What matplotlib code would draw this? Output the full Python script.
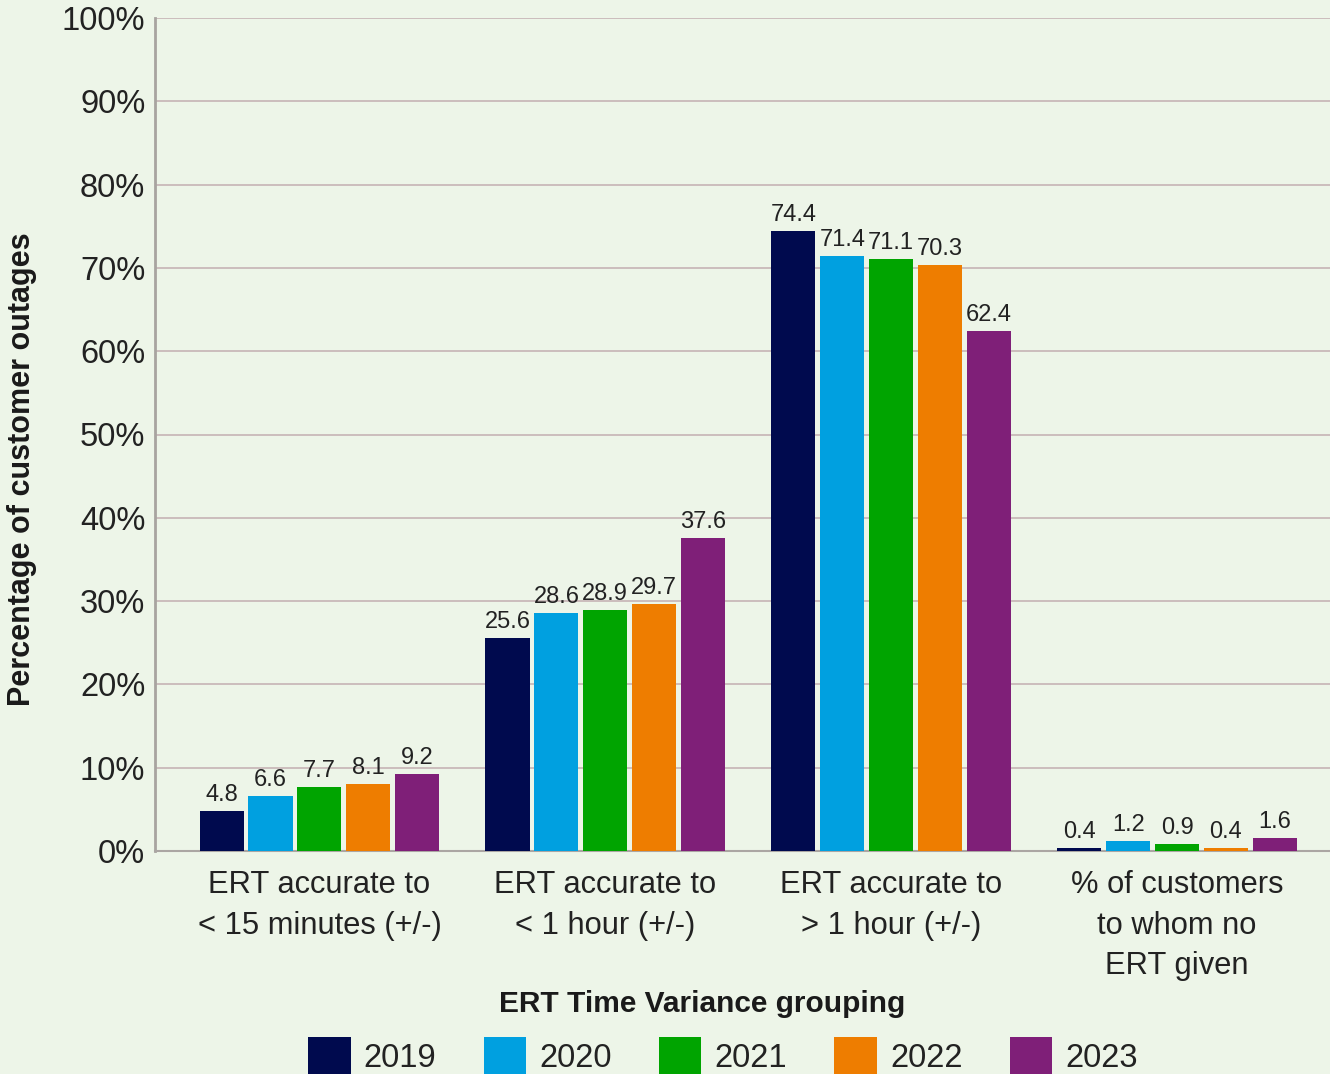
import matplotlib
matplotlib.use("Agg")
import matplotlib.pyplot as plt
import numpy as np

categories = ["ERT accurate to\n< 15 minutes (+/-)",
              "ERT accurate to\n< 1 hour (+/-)",
              "ERT accurate to\n> 1 hour (+/-)",
              "% of customers\nto whom no\nERT given"]
years = ["2019", "2020", "2021", "2022", "2023"]
values = {
    "2019": [4.8, 25.6, 74.4, 0.4],
    "2020": [6.6, 28.6, 71.4, 1.2],
    "2021": [7.7, 28.9, 71.1, 0.9],
    "2022": [8.1, 29.7, 70.3, 0.4],
    "2023": [9.2, 37.6, 62.4, 1.6],
}
colors = ["#000A4E", "#00A0E0", "#00A400", "#EE7D00", "#7F1F78"]
yticks = [0, 10, 20, 30, 40, 50, 60, 70, 80, 90, 100]

bg = "#EDF5E8"
plt.rcParams['font.family'] = ['Liberation Sans', 'DejaVu Sans']

fig = plt.figure(figsize=(13.3, 10.74), dpi=100, facecolor=bg)
ax = fig.add_axes([155/1330, 1 - 851/1074, 1 - 155/1330, (851 - 18)/1074])
ax.set_facecolor(bg)

x = np.arange(len(categories))
pitch = 0.171
width = 0.154
for i, (yr, c) in enumerate(zip(years, colors)):
    pos = x + (i - 2) * pitch
    bars = ax.bar(pos, values[yr], width=width, color=c, label=yr, zorder=3)
    for b, v in zip(bars, values[yr]):
        ax.text(b.get_x() + b.get_width() / 2, v + 0.6, f"{v}", ha="center",
                va="bottom", fontsize=17, color="#222222", zorder=4)

ax.set_xlim(-0.575, 3.535)
ax.set_ylim(0, 100)
ax.set_yticks(yticks)
ax.set_yticklabels([f"{t}%" for t in yticks], fontsize=23.5, color="#222222")
ax.yaxis.grid(True, color="#C9B9B9", linewidth=1.3, zorder=0)
ax.tick_params(axis="y", length=0, pad=7)
ax.set_xticks(x)
ax.set_xticklabels(categories, fontsize=22.2, color="#222222", linespacing=1.45)
ax.tick_params(axis="x", length=0, pad=14)

for s in ["top", "right"]:
    ax.spines[s].set_visible(False)
ax.spines["left"].set_color("#A8A4A0")
ax.spines["left"].set_linewidth(2)
ax.spines["bottom"].set_color("#ABA6A3")
ax.spines["bottom"].set_linewidth(1.5)

fig.text(22/1330, 1 - 469/1074, "Percentage of customer outages", rotation=90,
         ha="center", va="center", fontsize=22, fontweight="bold", color="#1a1a1a")
fig.text(702/1330, 1 - 1004/1074, "ERT Time Variance grouping", ha="center",
         va="center", fontsize=21.5, fontweight="bold", color="#1a1a1a")

leg = fig.legend(loc="center", bbox_to_anchor=(723/1330, 1 - 1056/1074), ncol=5,
                 frameon=False, fontsize=23.5, handlelength=1.3, handleheight=1.45,
                 handletextpad=0.4, columnspacing=1.45, borderaxespad=0, borderpad=0)
for t in leg.get_texts():
    t.set_color("#222222")

fig.savefig("out.png", dpi=100, facecolor=bg)
